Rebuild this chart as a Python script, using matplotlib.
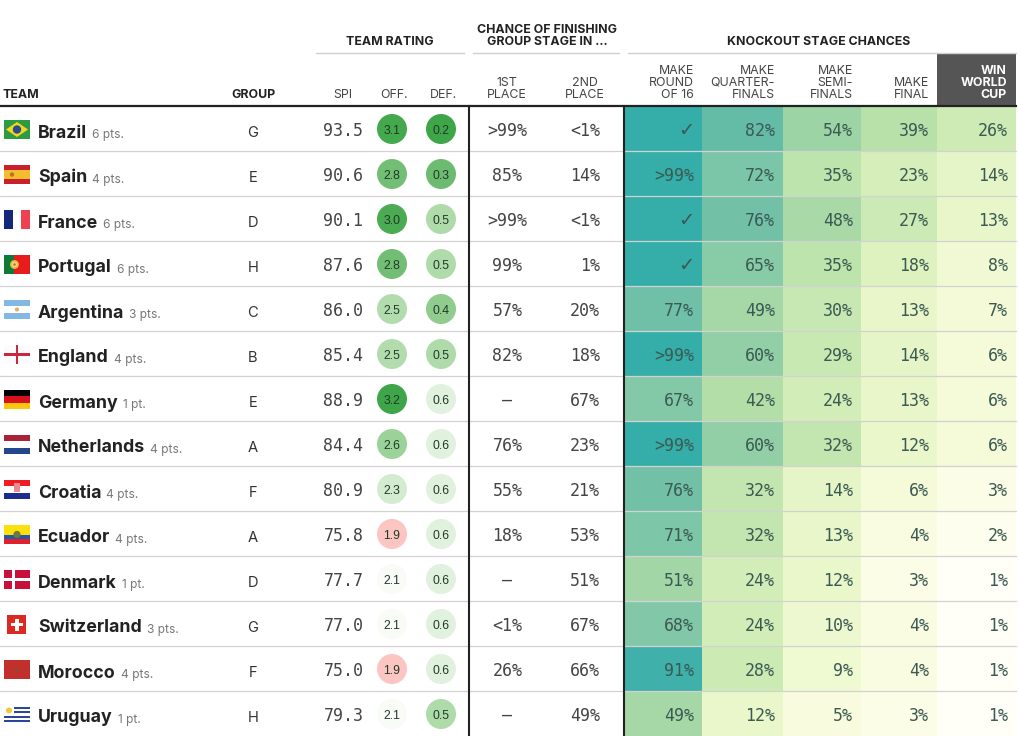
import matplotlib
matplotlib.use("Agg")
import matplotlib.pyplot as plt
from matplotlib import font_manager as fm
from matplotlib.patches import Rectangle, Circle, Polygon
from matplotlib.colors import LinearSegmentedColormap

teams = ["Brazil","Spain","France","Portugal","Argentina","England","Germany","Netherlands","Croatia","Ecuador","Denmark","Switzerland","Morocco","Uruguay"]
points = ["6 pts.","4 pts.","6 pts.","6 pts.","3 pts.","4 pts.","1 pt.","4 pts.","4 pts.","4 pts.","1 pt.","3 pts.","4 pts.","1 pt."]
groups = list("GEDHCBEAFADGFH")
spi = ["93.5","90.6","90.1","87.6","86.0","85.4","88.9","84.4","80.9","75.8","77.7","77.0","75.0","79.3"]
off = [3.1,2.8,3.0,2.8,2.5,2.5,3.2,2.6,2.3,1.9,2.1,2.1,1.9,2.1]
dfn = [0.2,0.3,0.5,0.5,0.4,0.5,0.6,0.6,0.6,0.6,0.6,0.6,0.6,0.5]
first = [">99%","85%",">99%","99%","57%","82%","—","76%","55%","18%","—","<1%","26%","—"]
second = ["<1%","14%","<1%","1%","20%","18%","67%","23%","21%","53%","51%","67%","66%","49%"]
round16 = ["✓",">99%","✓","✓","77%",">99%","67%",">99%","76%","71%","51%","68%","91%","49%"]
quarter = [82,72,76,65,49,60,42,60,32,32,24,24,28,12]
semi = [54,35,48,35,30,29,24,32,14,13,12,10,9,5]
final = [39,23,27,18,13,14,13,12,6,4,3,4,4,3]
win = [26,14,13,8,7,6,6,6,3,2,1,1,1,1]

SANS = "Inter"
MONO = "DejaVu Sans Mono"
names = {f.name for f in fm.fontManager.ttflist}
NARROW = "Liberation Sans Narrow" if "Liberation Sans Narrow" in names else "Liberation Sans"
NARROW_SIZE = 10.4 if NARROW.endswith("Narrow") else 8.8
TOP, ROW = 106, 45
fig = plt.figure(figsize=(10.2, 7.36), dpi=100)
ax = fig.add_axes([0, 0, 1, 1])
ax.set_xlim(0, 1020); ax.set_ylim(736, 0); ax.axis("off")

heat = LinearSegmentedColormap.from_list("heat", [
    (0.00, "#ffffff"), (0.01, "#fffff6"), (0.03, "#fbfde4"), (0.06, "#f5fad8"), (0.09, "#eff9d2"),
    (0.14, "#e6f5c6"), (0.24, "#d2edb8"), (0.32, "#c3e6b0"), (0.39, "#b8e0a9"),
    (0.54, "#9dd4a6"), (0.72, "#7bc5a8"), (0.82, "#64bca6"), (0.91, "#3fb0aa"),
    (1.00, "#35aeaa")])
off_c = LinearSegmentedColormap.from_list("off", [
    (0.0, "#fbc6c1"), (2/13, "#f8fbf6"), (4/13, "#d3ecd0"), (6/13, "#b3dcae"), (7/13, "#9ad29a"),
    (9/13, "#72be74"), (11/13, "#4aab52"), (1.0, "#3ea649")])
def_c = LinearSegmentedColormap.from_list("def", [
    (0.0, "#3ea649"), (0.25, "#6dbb70"), (0.5, "#8fcc8e"), (0.75, "#aedaa9"), (1.0, "#e0f1de")])

def pct(s):
    if s == "✓": return 100
    return 100 if s.startswith(">") else float(s.rstrip("%"))

heat_edges = [624, 702, 783, 861, 937, 1016]
heat_cols = [[pct(v) for v in round16], quarter, semi, final, win]
for c, col in enumerate(heat_cols):
    for r, v in enumerate(col):
        ax.add_patch(Rectangle((heat_edges[c], TOP + ROW*r), heat_edges[c+1]-heat_edges[c], ROW,
                               fc=heat(v/100), ec="none", zorder=1))

# row separators
for r in range(1, 14):
    y = TOP + ROW*r
    ax.plot([0, 1016], [y, y], color="#d2d2d2", lw=0.9, zorder=2)

# header
ax.add_patch(Rectangle((937, 53), 79, 52, fc="#555555", ec="none", zorder=1))
for x0, x1 in [(316, 464), (473, 619), (628, 1016)]:
    ax.plot([x0, x1], [52.5, 52.5], color="#d0d0d0", lw=1, zorder=2)
ax.plot([0, 1016], [106, 106], color="#222222", lw=1.6, zorder=5)
ax.plot([469, 469], [106, 736], color="#222222", lw=1.5, zorder=5)
ax.plot([624, 624], [106, 736], color="#222222", lw=1.5, zorder=5)

def head(x, y, s, ha="center", bold=False, color="#444444", size=8.9):
    ax.text(x, y, s, ha=ha, va="baseline", ma=ha, family=SANS, fontsize=size, color=color,
            weight="bold" if bold else "normal", linespacing=0.95)

head(3, 98, "TEAM", "left", True, "#222222")
head(253, 98, "GROUP", "center", True, "#222222")
head(390, 45, "TEAM RATING", "center", True, "#222222")
head(547, 45, "CHANCE OF FINISHING\nGROUP STAGE IN ...", "center", True, "#222222")
head(819, 45, "KNOCKOUT STAGE CHANCES", "center", True, "#222222")
head(343, 97.5, "SPI"); head(394, 97.5, "OFF."); head(444, 97.5, "DEF.")
head(507, 97.5, "1ST\nPLACE"); head(585, 97.5, "2ND\nPLACE")
head(694, 97.5, "MAKE\nROUND\nOF 16", "right")
head(775, 97.5, "MAKE\nQUARTER-\nFINALS", "right")
head(853, 97.5, "MAKE\nSEMI-\nFINALS", "right")
head(929, 97.5, "MAKE\nFINAL", "right")
head(1007, 97.5, "WIN\nWORLD\nCUP", "right", True, "white")

# flags
FX, FW, FH = 4, 26, 19
def bands(y, cols, horiz=True, weights=None):
    weights = weights or [1]*len(cols)
    t = sum(weights); p = 0
    for col, w in zip(cols, weights):
        if horiz:
            ax.add_patch(Rectangle((FX, y + FH*p/t), FW, FH*w/t, fc=col, ec="none", zorder=3))
        else:
            ax.add_patch(Rectangle((FX + FW*p/t, y), FW*w/t, FH, fc=col, ec="none", zorder=3))
        p += w
def rect(x, y, w, h, col):
    ax.add_patch(Rectangle((x, y), w, h, fc=col, ec="none", zorder=4))
def dot(x, y, rad, col):
    ax.add_patch(Circle((x, y), rad, fc=col, ec="none", zorder=5))
def flag(name, y):
    cx, cy = FX + FW/2, y + FH/2
    if name == "Brazil":
        bands(y, ["#2f9a44"])
        ax.add_patch(Polygon([(FX+2, cy), (cx, y+2), (FX+FW-2, cy), (cx, y+FH-2)], fc="#f2d81c", ec="none", zorder=4))
        dot(cx, cy, 4.2, "#2b4a92")
    elif name == "Spain":
        bands(y, ["#c8202c", "#f4bd2e", "#c8202c"], weights=[1, 2, 1]); dot(FX+8, cy, 2.2, "#b8722c")
    elif name == "France":
        bands(y, ["#13287a", "#ffffff", "#ef4152"], horiz=False)
    elif name == "Portugal":
        bands(y, ["#0f7a38", "#e81c1c"], horiz=False, weights=[2, 3]); dot(FX+10.5, cy, 4.4, "#e8c040"); dot(FX+10.5, cy, 2.4, "#f0e0a0"); dot(FX+10.5, cy, 1.3, "#d06040")
    elif name == "Argentina":
        bands(y, ["#84b8e4", "#ffffff", "#84b8e4"]); dot(cx, cy, 2.1, "#e0b060")
    elif name == "England":
        bands(y, ["#fbfbfb"]); rect(cx-1.3, y, 2.6, FH, "#c8283c"); rect(FX, cy-1.3, FW, 2.6, "#c8283c")
    elif name == "Germany":
        bands(y, ["#000000", "#d8101c", "#fcc60c"])
    elif name == "Netherlands":
        bands(y, ["#a82238", "#ffffff", "#24468c"])
    elif name == "Croatia":
        bands(y, ["#f01c24", "#ffffff", "#1c2c8c"]); rect(cx-3, y+3, 6, 9, "#e88a90")
    elif name == "Ecuador":
        bands(y, ["#fce00c", "#2458a8", "#e0202c"], weights=[2, 1, 1]); dot(cx, cy, 3.6, "#6a7a40")
    elif name == "Denmark":
        bands(y, ["#c8103c"]); rect(FX+8, y, 3.5, FH, "white"); rect(FX, cy-1.7, FW, 3.4, "white")
    elif name == "Switzerland":
        rect(cx-9.5, y, 19, FH, "#dc2a22"); rect(cx-6, cy-1.9, 12, 3.8, "white"); rect(cx-1.9, cy-6, 3.8, 12, "white")
    elif name == "Morocco":
        bands(y, ["#c2302e"]); dot(cx, cy, 2, "#8c4a30")
    elif name == "Uruguay":
        bands(y, ["#ffffff", "#2c46a0"]*4 + ["#ffffff"])
        rect(FX, y, 10, 10.5, "white"); dot(FX+5, y+5.5, 3, "#f0c83c")

INK = "#444444"
HEAT_INK = "#3a5a52"
# rows
fig.canvas.draw()
rend = fig.canvas.get_renderer()
for r in range(14):
    top = TOP + ROW*r
    flag(teams[r], top + 14)
    t = ax.text(38, top + 31.5, teams[r], ha="left", va="baseline", family=SANS, weight="bold", fontsize=12.8, color="#222222", zorder=6)
    w = t.get_window_extent(rend).width
    ax.text(38 + w + 5, top + 32, points[r], ha="left", va="baseline", family=SANS, fontsize=8.6, color="#777777", zorder=6)
    ax.text(253, top + 31, groups[r], ha="center", va="baseline", family=SANS, fontsize=10.6, color="#333333", zorder=6)
    ax.text(343.5, top + 30, spi[r], ha="center", va="baseline", family=MONO, fontsize=12, color=INK, zorder=6)
    for x, v, cmap, lo, hi in ((392, off[r], off_c, 1.9, 3.2), (441, dfn[r], def_c, 0.2, 0.6)):
        ax.add_patch(Circle((x, top + 23), 15, fc=cmap((v-lo)/(hi-lo)), ec="none", zorder=3))
        ax.text(x, top + 28, f"{v:.1f}", ha="center", va="baseline", family=NARROW, fontsize=NARROW_SIZE, color="#203a28", zorder=6)
    ax.text(507.5, top + 30, first[r], ha="center", va="baseline", family=MONO, fontsize=12, color=INK, zorder=6)
    ax.text(600, top + 30, second[r], ha="right", va="baseline", family=MONO, fontsize=12, color=INK, zorder=6)
    rtxt = [round16[r]] + [f"{col[r]}%" for col in (quarter, semi, final, win)]
    for c, s in enumerate(rtxt):
        tick = s == "✓"
        ax.text(heat_edges[c+1] - 8, top + 30, s, ha="right", va="baseline",
                family="DejaVu Sans" if tick else MONO, fontsize=14 if tick else 12,
                color=HEAT_INK, zorder=6)

fig.savefig("out.png", dpi=100)
